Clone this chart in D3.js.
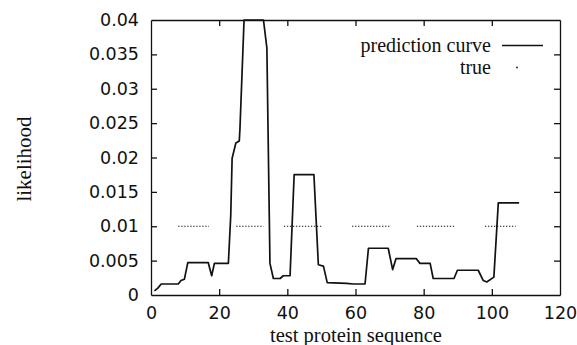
<!DOCTYPE html>
<html>
<head>
<meta charset="utf-8">
<script src="https://cdn.jsdelivr.net/npm/d3@7"></script>
<style>
  body { margin: 0; background: #fff; }
  svg { display: block; font-family: "Liberation Serif", "Times New Roman", serif; }
  .axis text { font-size: 17.5px; fill: #111; font-family: "DejaVu Sans", sans-serif; }
  .axis path, .axis line { stroke: #111; stroke-width: 1.3; }
</style>
</head>
<body>
<script>
const width = 577,
  height = 345,
  margin = { top: 20, right: 17, bottom: 50, left: 151 };

// prediction curve (position, likelihood)
const predX = [1, 2, 3, 8, 8.8, 9.8, 10.8, 16.8, 17.8, 18.6, 22.7, 23.4, 23.8, 24.9, 25.9, 26.1, 27.3,
  33, 34, 34.7, 34.9, 35.9, 37.9, 38.8, 40.8, 42, 47.8, 49.1, 50.6, 51.7, 57.4, 59.4, 62.8,
  63.8, 69.6, 70.9, 71.9, 77.8, 78.9, 81.9, 82.8, 88.9, 89.9, 96, 97.5, 98.5, 100.6, 101.9, 108];
const predY = [0.0006, 0.001, 0.0016, 0.0016, 0.0021, 0.0023, 0.0047, 0.0047, 0.0028, 0.0046, 0.0046,
  0.0116, 0.0199, 0.0221, 0.0224, 0.0242, 0.04, 0.04, 0.0359, 0.0116, 0.0046, 0.0024, 0.0024,
  0.0028, 0.0028, 0.0175, 0.0175, 0.0044, 0.0042, 0.0018, 0.0017, 0.0016, 0.0016, 0.0068, 0.0068,
  0.0037, 0.0053, 0.0053, 0.0046, 0.0046, 0.0024, 0.0024, 0.0036, 0.0036, 0.0021, 0.0019, 0.0026,
  0.0134, 0.0134];

// true regions (start, end) at likelihood 0.01
const trueStart = [8, 25, 39, 59, 78, 98];
const trueEnd = [17, 33, 50, 70, 89, 107];
const trueLevel = 0.01;

const xTicks = [0, 20, 40, 60, 80, 100, 120];
const yTicks = [0, 0.005, 0.01, 0.015, 0.02, 0.025, 0.03, 0.035, 0.04];

const x = d3.scaleLinear().domain([0, 120]).range([margin.left, width - margin.right]);
const y = d3.scaleLinear().domain([0, 0.04]).range([height - margin.bottom, margin.top]);

const svg = d3.select("body").append("svg").attr("width", width).attr("height", height);

// Axes with inward ticks, mirrored on top and right
svg.append("g").attr("class", "axis")
  .attr("transform", `translate(0,${y(0)})`)
  .call(d3.axisBottom(x).tickValues(xTicks).tickSizeInner(-6).tickSizeOuter(0).tickPadding(11.6));

svg.append("g").attr("class", "axis")
  .attr("transform", `translate(0,${y(0.04)})`)
  .call(d3.axisTop(x).tickValues(xTicks).tickSizeInner(-6).tickSizeOuter(0).tickFormat(""));

svg.append("g").attr("class", "axis")
  .attr("transform", `translate(${x(0)},0)`)
  .call(d3.axisLeft(y).tickValues(yTicks).tickSizeInner(-6).tickSizeOuter(0).tickPadding(12)
    .tickFormat((d) => d3.format("")(+d.toFixed(3))));

svg.append("g").attr("class", "axis")
  .attr("transform", `translate(${x(120)},0)`)
  .call(d3.axisRight(y).tickValues(yTicks).tickSizeInner(-6).tickSizeOuter(0).tickFormat(""));

// Hide the tick marks that sit on the border corners
svg.selectAll(".axis .tick line").filter((d) => d === 0 || d === 120 || d === 0.04)
  .attr("opacity", 0);

// true segments, dotted
trueStart.forEach((s, i) => {
  svg.append("line")
    .attr("x1", x(s)).attr("x2", x(trueEnd[i]))
    .attr("y1", y(trueLevel)).attr("y2", y(trueLevel))
    .attr("stroke", "#111")
    .attr("stroke-width", 1.2)
    .attr("stroke-dasharray", "1.3,1.7");
});

// prediction curve
const line = d3.line().x((d, i) => x(predX[i])).y((d) => y(d));
svg.append("path")
  .datum(predY)
  .attr("d", line)
  .attr("fill", "none")
  .attr("stroke", "#111")
  .attr("stroke-width", 1.7)
  .attr("stroke-linejoin", "round");

// Legend
const legend = svg.append("g").style("font-size", "20px").attr("fill", "#111");
legend.append("text").attr("x", 491).attr("y", 51.5).attr("text-anchor", "end").text("prediction curve");
legend.append("line").attr("x1", 502).attr("x2", 543).attr("y1", 45.5).attr("y2", 45.5)
  .attr("stroke", "#111").attr("stroke-width", 1.7);
legend.append("text").attr("x", 491).attr("y", 74).attr("text-anchor", "end").text("true");
legend.append("circle").attr("cx", 517).attr("cy", 67.5).attr("r", 0.9).attr("fill", "#111");

// Axis titles
svg.append("text")
  .attr("x", 356).attr("y", 341.5)
  .attr("text-anchor", "middle")
  .style("font-size", "20.5px").attr("fill", "#111")
  .text("test protein sequence");

svg.append("text")
  .attr("transform", "translate(31,159) rotate(-90)")
  .attr("text-anchor", "middle")
  .style("font-size", "21px").attr("fill", "#111")
  .text("likelihood");
</script>
</body>
</html>
